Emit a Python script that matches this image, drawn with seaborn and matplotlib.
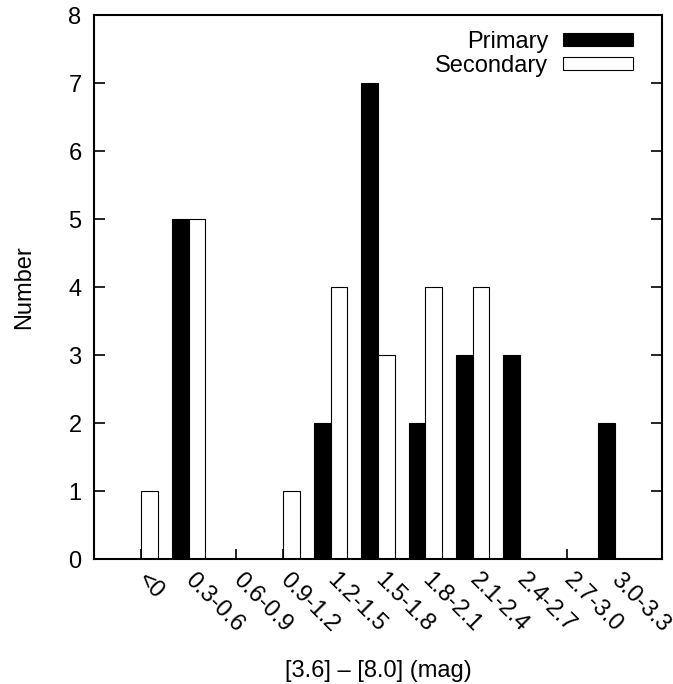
import matplotlib
matplotlib.use("Agg")
import matplotlib.pyplot as plt
import seaborn as sns
import pandas as pd

bins = ["<0", "0.3-0.6", "0.6-0.9", "0.9-1.2", "1.2-1.5", "1.5-1.8",
        "1.8-2.1", "2.1-2.4", "2.4-2.7", "2.7-3.0", "3.0-3.3"]
primary = [0, 5, 0, 0, 2, 7, 2, 3, 3, 0, 2]
secondary = [1, 5, 0, 1, 4, 3, 4, 4, 0, 0, 0]
series = ["Primary", "Secondary"]
colors = {"Primary": "black", "Secondary": "white"}

df = pd.DataFrame({
    "bin": bins * 2,
    "count": primary + secondary,
    "series": [series[0]] * len(bins) + [series[1]] * len(bins),
})

sns.set_theme(style="white")
plt.rcParams["font.family"] = ["Liberation Sans", "DejaVu Sans"]
plt.rcParams["text.color"] = "black"
plt.rcParams["axes.labelcolor"] = "black"
plt.rcParams["xtick.color"] = "black"
plt.rcParams["ytick.color"] = "black"

fig = plt.figure(figsize=(6.73, 6.84), dpi=100)
ax = fig.add_axes([94 / 673, 1 - 559 / 684, (662 - 94) / 673, (559 - 15) / 684])

sns.barplot(data=df, x="bin", y="count", hue="series", order=bins,
            hue_order=series, palette=colors, width=0.7, gap=0,
            edgecolor="black", linewidth=0.8, ax=ax, legend=True)

ax.set_xlim(-1, 11)
ax.set_ylim(0, 8)
ax.set_yticks(range(0, 9))

for s in ax.spines.values():
    s.set_linewidth(1.5)
    s.set_color("black")
    s.set_visible(True)

ax.tick_params(axis="y", direction="in", length=8, width=1.2, left=True,
               right=True, labelsize=17, pad=9, colors="black")
ax.tick_params(axis="x", direction="in", length=7, width=1.2, bottom=True,
               top=False, labelsize=17, pad=13, colors="black")
ax.set_xticks(range(len(bins)))
ax.set_xticklabels(bins, rotation=-45, ha="left", va="center",
                   rotation_mode="anchor")

ax.set_xlabel("[3.6] \u2013 [8.0] (mag)", fontsize=17, labelpad=17,
              color="black")
ax.set_ylabel("Number", fontsize=17, labelpad=24, color="black")

leg = ax.legend(loc="upper right", bbox_to_anchor=(0.949, 0.971),
                frameon=False, fontsize=17, markerfirst=False,
                handlelength=2.95, handleheight=0.5, handletextpad=0.65,
                labelspacing=0.1, borderaxespad=0, borderpad=0)
for h in leg.legend_handles:
    h.set_edgecolor("black")
    h.set_linewidth(0.8)
for t in leg.get_texts():
    t.set_color("black")

fig.savefig("out.png", dpi=100)
